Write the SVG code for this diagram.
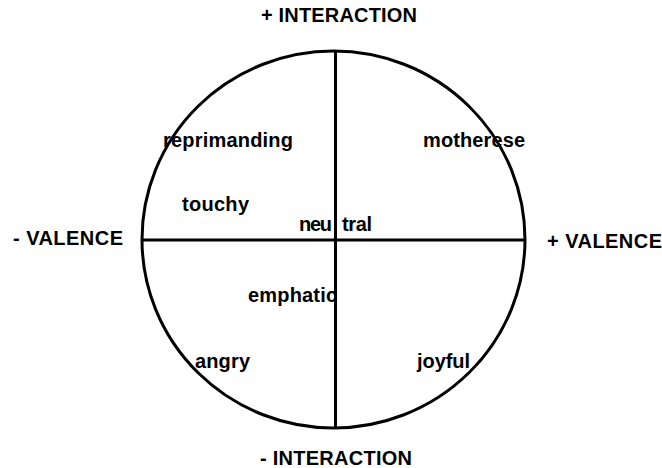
<svg xmlns="http://www.w3.org/2000/svg" width="662" height="468" viewBox="0 0 662 468">
<style>
.t{font-family:"Liberation Sans",Arial,sans-serif;font-weight:bold;font-size:20px;fill:#000}
.ln{stroke:#000;stroke-width:3;fill:none}
</style>
<rect width="662" height="468" fill="#fff"/>
<g id="connectors">
<ellipse class="ln" cx="333.5" cy="239.5" rx="191.5" ry="188.5"/>
<line class="ln" x1="335.5" y1="51" x2="335.5" y2="428"/>
<line class="ln" x1="142" y1="240" x2="525" y2="240"/>
</g>
<g id="axes">
<text class="t" x="261" y="22" textLength="156" lengthAdjust="spacing">+ INTERACTION</text>
<text class="t" x="260" y="465" textLength="152" lengthAdjust="spacing">- INTERACTION</text>
<text class="t" x="13" y="245" textLength="110" lengthAdjust="spacing">- VALENCE</text>
<text class="t" x="547" y="248" textLength="115" lengthAdjust="spacing">+ VALENCE</text>
</g>
<g id="reprimanding"><text class="t" x="163" y="147" textLength="130" lengthAdjust="spacing">reprimanding</text></g>
<g id="motherese"><text class="t" x="423" y="147" textLength="102" lengthAdjust="spacing">motherese</text></g>
<g id="touchy"><text class="t" x="182" y="211" textLength="67" lengthAdjust="spacing">touchy</text></g>
<g id="neutral"><text class="t" x="299" y="231" textLength="33" lengthAdjust="spacing">neu</text><text class="t" x="342" y="231" textLength="30" lengthAdjust="spacing">tral</text></g>
<g id="emphatic"><text class="t" x="248" y="302" textLength="89" lengthAdjust="spacing">emphatic</text></g>
<g id="angry"><text class="t" x="195" y="368" textLength="55" lengthAdjust="spacing">angry</text></g>
<g id="joyful"><text class="t" x="417" y="368" textLength="53" lengthAdjust="spacing">joyful</text></g>
</svg>
